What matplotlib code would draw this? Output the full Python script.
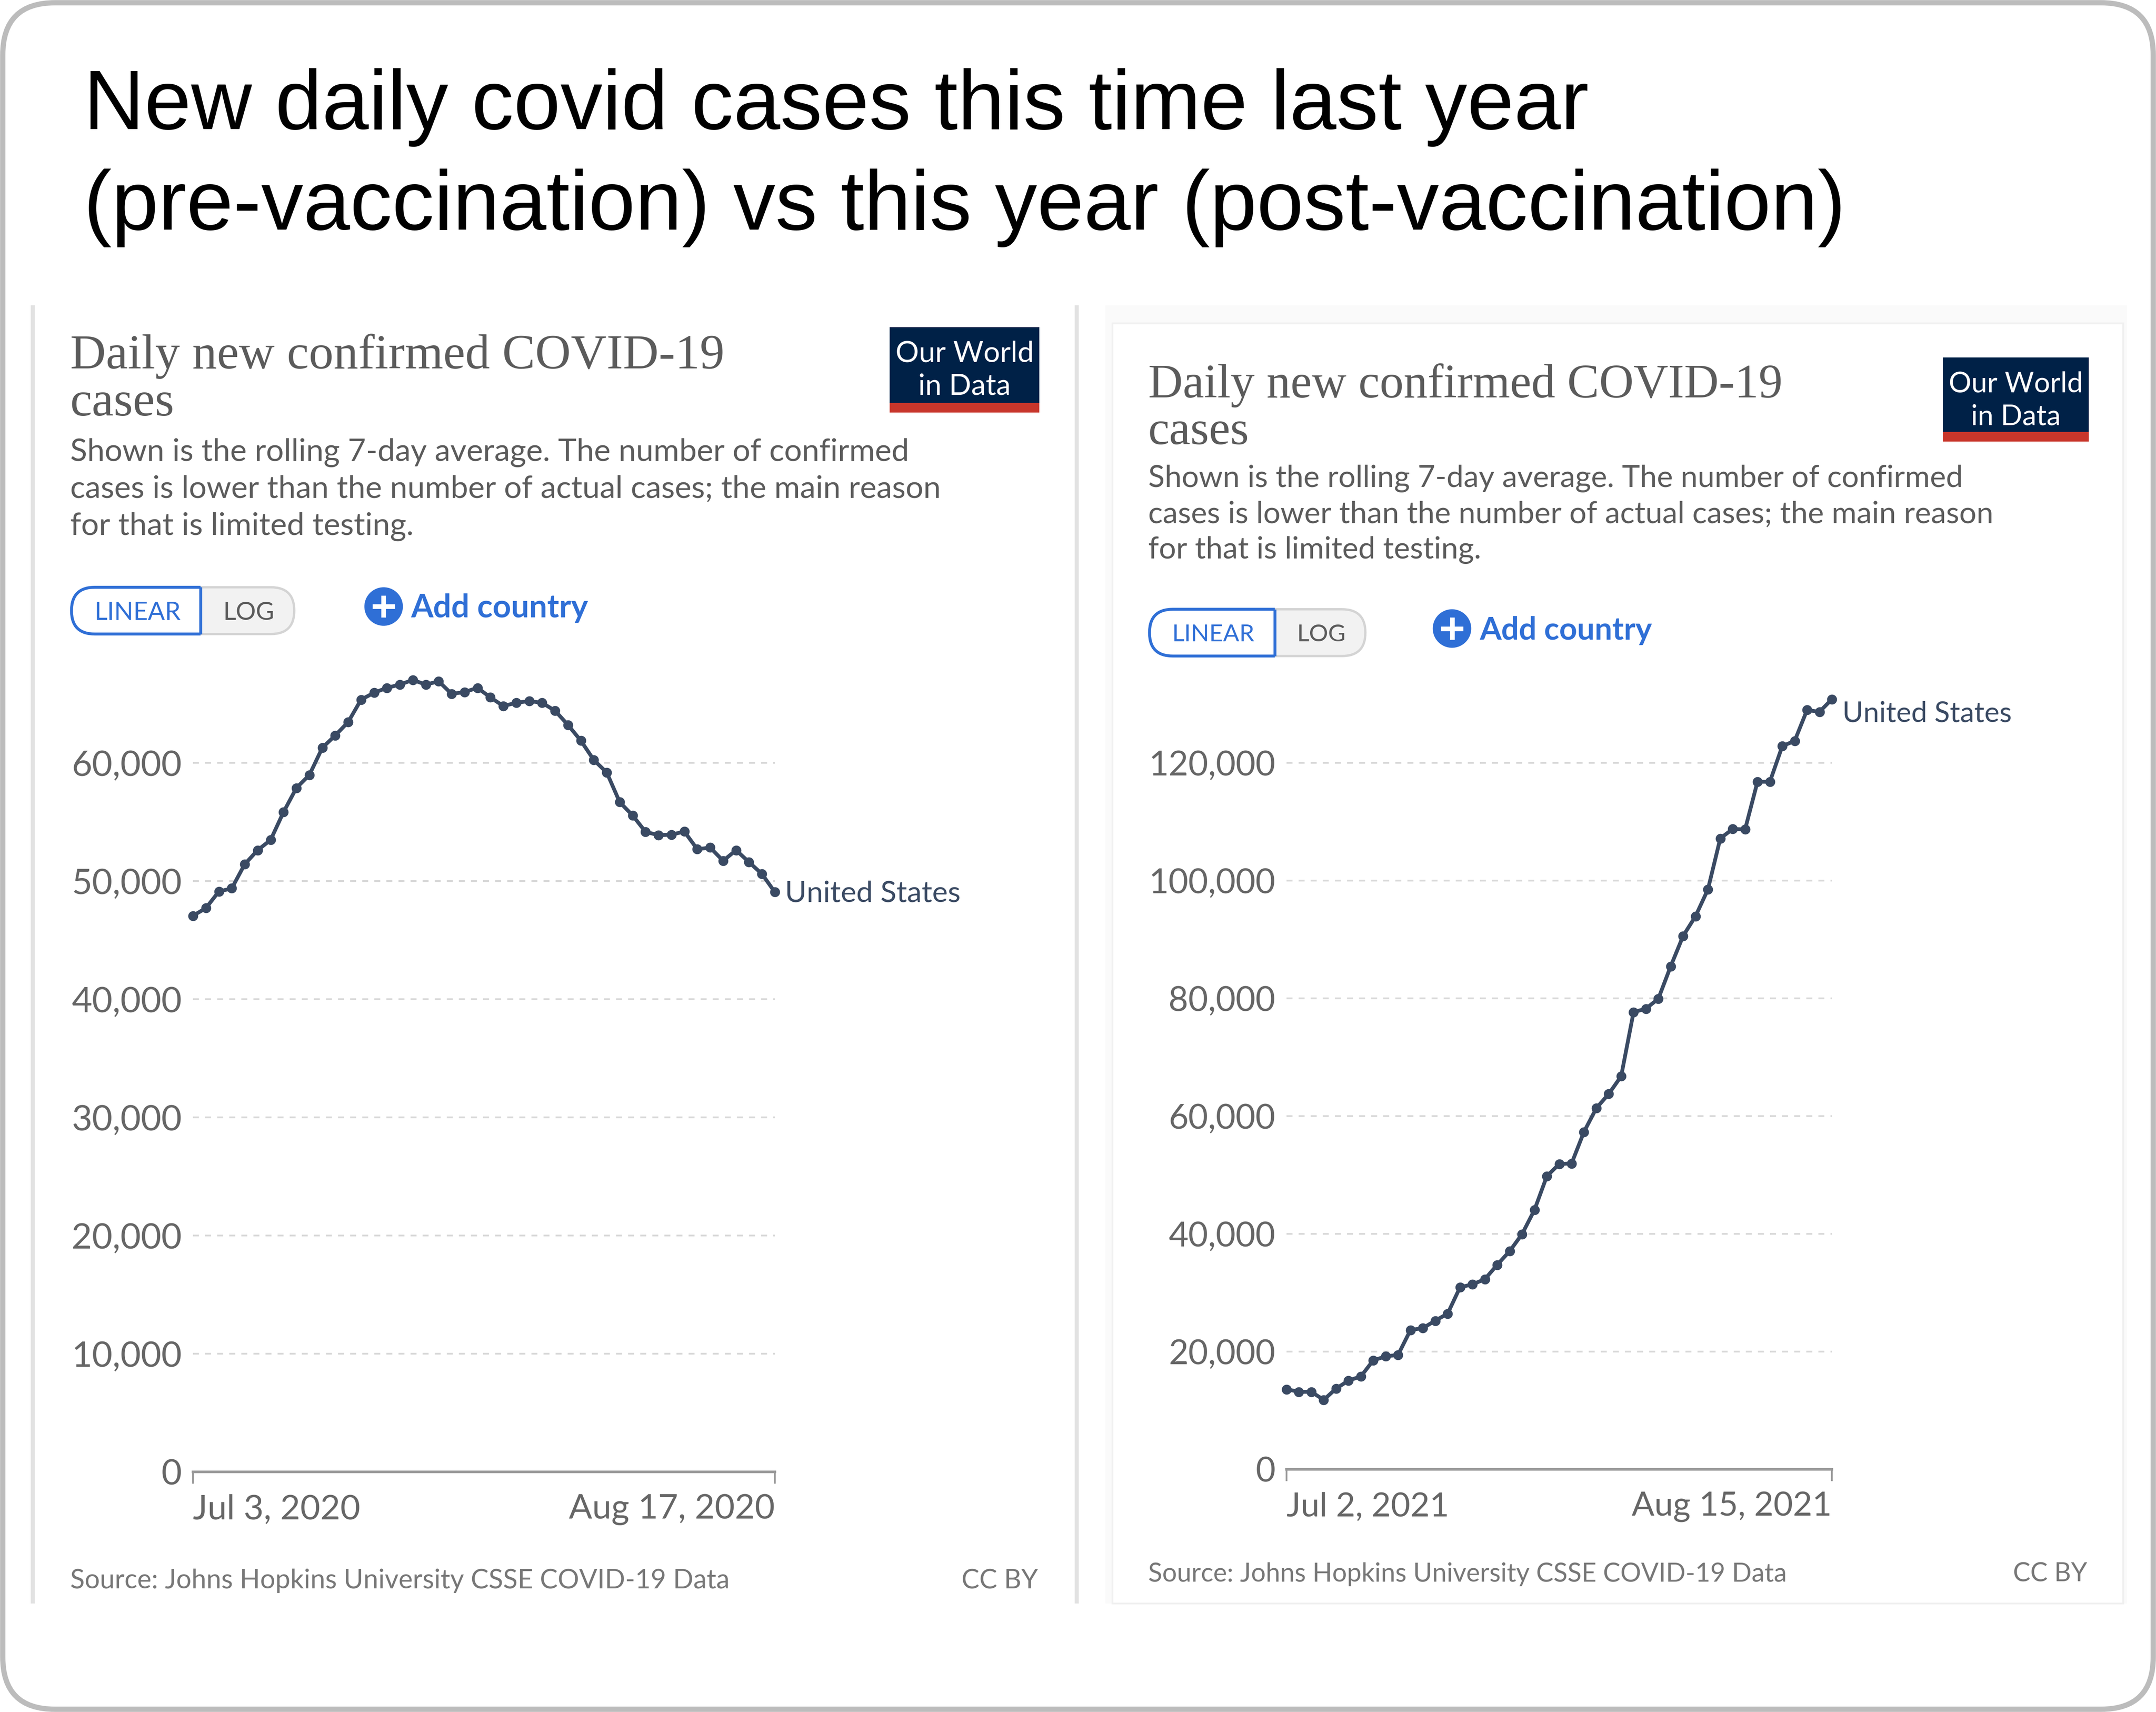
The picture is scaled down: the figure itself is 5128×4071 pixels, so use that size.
import matplotlib
matplotlib.use('Agg')
import matplotlib.pyplot as plt
import pandas as pd
from matplotlib.patches import FancyBboxPatch, Rectangle, Circle

W, H = 5128, 4071
UNIT = W / 1568  # layout below is in 1568-wide units

# data
cases_2020 = [47060, 47710, 49110, 49380, 51420, 52610, 53470, 55830, 57880, 58970,
              61270, 62320, 63450, 65350, 65930, 66350, 66620, 67020, 66620, 66900,
              65840, 65990, 66350, 65540, 64810, 65080, 65230, 65080, 64410, 63210,
              61870, 60240, 59180, 56680, 55550, 54160, 53880, 53920, 54190, 52690,
              52830, 51710, 52610, 51600, 50600, 49060]
cases_2021 = [13607, 13170, 13170, 11800, 13720, 15080, 15790, 18520, 19180, 19450,
              23660, 23990, 25250, 26450, 30930, 31420, 32290, 34750, 37050, 39940,
              44040, 49780, 51860, 51960, 57320, 61360, 63770, 66770, 77650, 78250,
              79940, 85460, 90600, 93950, 98500, 107170, 108760, 108700, 116790, 116790,
              122840, 123730, 128980, 128660, 130800]
start_2020 = '2020-07-03'
start_2021 = '2021-07-02'
xlabels_2020 = ['Jul 3, 2020', 'Aug 17, 2020']
xlabels_2021 = ['Jul 2, 2021', 'Aug 15, 2021']
yticks_2020 = [0, 10000, 20000, 30000, 40000, 50000, 60000]
yticks_2021 = [0, 20000, 40000, 60000, 80000, 100000, 120000]

title_lines = ['New daily covid cases this time last year',
               '(pre-vaccination) vs this year (post-vaccination)']
subtitle_lines = ['Shown is the rolling 7-day average. The number of confirmed',
                  'cases is lower than the number of actual cases; the main reason',
                  'for that is limited testing.']
source_text = 'Source: Johns Hopkins University CSSE COVID-19 Data'

LINE = '#3a4a63'
TEXT = '#5b5b5b'
BLUE = '#2f6fd6'
NAVY = '#002147'
RED = '#c8362b'

fig = plt.figure(figsize=(W / 100, H / 100), dpi=100, facecolor='white')

# background layer, y goes down like on the screenshot
bg = fig.add_axes([0, 0, 1, 1])
bg.set_xlim(0, 1568)
bg.set_ylim(H / UNIT, 0)
bg.axis('off')

bg.add_patch(FancyBboxPatch((2, 2), 1564, H / UNIT - 4, boxstyle='round,pad=0,rounding_size=38',
                            fc='white', ec='#bcbcbc', lw=9))

for t, y in zip(title_lines, [94, 167]):
    bg.text(61, y, t, family='Liberation Sans', fontsize=144, color='black', va='baseline')

# panel edges
for x in [24, 783]:
    bg.plot([x, x], [222, 1166], color='#e2e2e2', lw=7, solid_capstyle='butt')
bg.add_patch(Rectangle((804, 222), 743, 944, fc='#fafafa', ec='none'))
bg.add_patch(Rectangle((809, 235), 735, 931, fc='white', ec='#f0f0f0', lw=3))


def panel_text(x0, title_y, title_size, sub_y, sub_size, sub_step, src_y, src_size, cc_right):
    bg.text(x0, title_y, 'Daily new confirmed COVID-19', family='Liberation Serif', fontsize=title_size,
            color=TEXT, va='baseline')
    bg.text(x0, title_y + 34, 'cases', family='Liberation Serif', fontsize=title_size,
            color=TEXT, va='baseline')
    for i, t in enumerate(subtitle_lines):
        bg.text(x0, sub_y + i * sub_step, t, family='Lato', fontsize=sub_size, color=TEXT, va='baseline')
    bg.text(x0, src_y, source_text, family='Lato', fontsize=src_size, color='#777777', va='baseline')
    bg.text(cc_right, src_y, 'CC BY', family='Lato', fontsize=src_size, color='#777777', va='baseline', ha='right')


def logo(x0, x1, y0, y1, size):
    bg.add_patch(Rectangle((x0, y0), x1 - x0, y1 - y0, fc=NAVY, ec='none'))
    bg.add_patch(Rectangle((x0, y1 - 7), x1 - x0, 7, fc=RED, ec='none'))
    xc = (x0 + x1) / 2
    bg.text(xc, y0 + 25, 'Our World', family='Lato', fontsize=size, color='white', ha='center', va='baseline')
    bg.text(xc, y0 + 49, 'in Data', family='Lato', fontsize=size, color='white', ha='center', va='baseline')


def toggle(x0, xm, x1, y0, y1, size):
    r = (y1 - y0) / 2
    bg.add_patch(FancyBboxPatch((x0, y0), x1 - x0, y1 - y0, boxstyle=f'round,pad=0,rounding_size={r}',
                                fc='#f2f2f2', ec='#d4d4d4', lw=4))
    on = FancyBboxPatch((x0, y0), xm - x0 + 40, y1 - y0, boxstyle=f'round,pad=0,rounding_size={r}',
                        fc='white', ec=BLUE, lw=5)
    bg.add_patch(on)
    on.set_clip_path(Rectangle((x0 - 5, y0 - 5), xm - x0 + 5, y1 - y0 + 10, transform=bg.transData))
    bg.plot([xm, xm], [y0, y1], color=BLUE, lw=5, solid_capstyle='butt')
    ym = (y0 + y1) / 2
    bg.text((x0 + xm) / 2 + 1, ym, 'LINEAR', family='Lato', fontsize=size, color=BLUE, ha='center', va='center_baseline')
    bg.text((xm + x1) / 2 + 1, ym, 'LOG', family='Lato', fontsize=size, color=TEXT, ha='center', va='center_baseline')


def add_country(xc, yc, size):
    bg.add_patch(Circle((xc, yc), 14, fc=BLUE, ec='none'))
    bg.plot([xc - 8, xc + 8], [yc, yc], color='white', lw=8, solid_capstyle='butt')
    bg.plot([xc, xc], [yc - 8, yc + 8], color='white', lw=8, solid_capstyle='butt')
    bg.text(xc + 20, yc + 8, 'Add country', family='Lato', fontweight='bold', fontsize=size, color=BLUE, va='baseline')


panel_text(51, 268, 84.5, 335, 53.6, 27, 1155, 45.8, 755)
logo(647, 756, 238, 300, 50)
toggle(52, 146, 214, 427, 461, 43)
add_country(279, 441, 55)

panel_text(835, 289, 82, 354, 52, 26, 1150, 44.4, 1518)
logo(1413, 1519, 260, 321, 48.5)
toggle(836, 927, 993, 443, 477, 41)
add_country(1056, 457, 53.5)


def line_chart(x0_px, x1_px, zero_px, px_per_unit, ymax, start, values, yticks, xlabels, label_off,
               ysize, xsize, label_size):
    bottom = 1 - zero_px / H
    height = ymax * px_per_unit / H
    ax = fig.add_axes([x0_px / W, bottom, (x1_px - x0_px) / W, height], facecolor='none')
    dates = pd.date_range(start, periods=len(values))
    ax.plot(dates, values, color=LINE, lw=6.5, marker='o', ms=17, mew=0, clip_on=False, zorder=5)
    ax.set_xlim(dates[0], dates[-1])
    ax.set_ylim(0, ymax)
    for s in ['top', 'left', 'right']:
        ax.spines[s].set_visible(False)
    ax.spines['bottom'].set_color('#9a9a9a')
    ax.spines['bottom'].set_linewidth(4.5)
    ax.set_yticks(yticks)
    ax.set_yticklabels([f'{v:,}' for v in yticks], family='Lato', fontsize=ysize, color='#666666')
    ax.set_xticks([dates[0], dates[-1]])
    ax.set_xticklabels(xlabels, family='Lato', fontsize=xsize, color='#666666')
    for lab, ha in zip(ax.get_xticklabels(), ['left', 'right']):
        lab.set_ha(ha)
    ax.tick_params(axis='y', length=0, pad=19)
    ax.tick_params(axis='x', length=20, width=3, color='#9a9a9a', pad=18)
    ax.grid(axis='y', color='#d8d8d8', lw=3, dashes=(3.4, 3.5))
    ax.set_axisbelow(True)
    ax.annotate('United States', xy=(dates[-1], values[-1]), xytext=label_off, textcoords='offset points',
                family='Lato', fontsize=label_size, color=LINE, va='center_baseline', annotation_clip=False)
    return ax


line_chart(459, 1843, 3500, 281 / 10000, 70000, start_2020, cases_2020, yticks_2020, xlabels_2020, (17, 2),
           60.5, 59, 50.5)
line_chart(3060, 4357, 3494, 280 / 20000, 135000, start_2021, cases_2021, yticks_2021, xlabels_2021, (18, -21),
           58.5, 57.3, 48.7)

fig.savefig('out.png', dpi=100)
